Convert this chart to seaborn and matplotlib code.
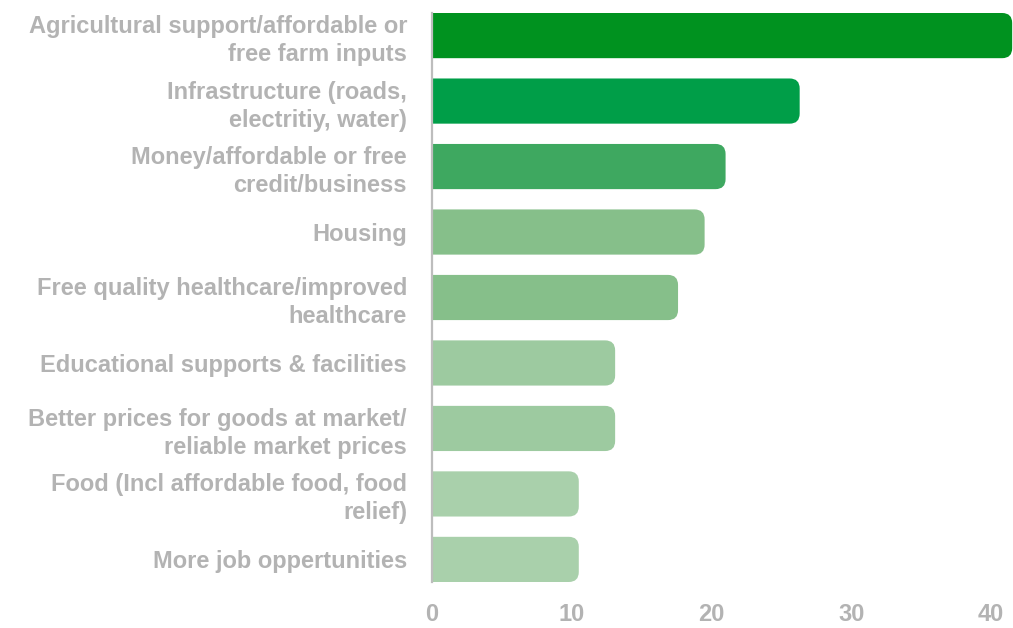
import matplotlib
matplotlib.use("Agg")
import matplotlib.pyplot as plt
from matplotlib.patches import FancyBboxPatch
import seaborn as sns
import pandas as pd

categories = [
    "Agricultural support/affordable or\nfree farm inputs",
    "Infrastructure (roads,\nelectritiy, water)",
    "Money/affordable or free\ncredit/business",
    "Housing",
    "Free quality healthcare/improved\nhealthcare",
    "Educational supports & facilities",
    "Better prices for goods at market/\nreliable market prices",
    "Food (Incl affordable food, food\nrelief)",
    "More job oppertunities",
]
values = [41.5, 26.3, 21.0, 19.5, 17.6, 13.1, 13.1, 10.5, 10.5]
bar_colors = ["#00921f", "#009e48", "#3ea860", "#86bf8a", "#86bf8a",
              "#9dcaa0", "#9dcaa0", "#a9d0ab", "#a9d0ab"]
x_ticks = [0, 10, 20, 30, 40]

sns.set_style("white")
plt.rcParams["font.family"] = ["Liberation Sans", "DejaVu Sans"]

df = pd.DataFrame({"need": categories, "pct": values})

W, H = 1013, 628
fig = plt.figure(figsize=(W / 100, H / 100), dpi=100)
ax_left, ax_right, ax_top, ax_bottom = 432, 1013, 13, 582
ax = fig.add_axes([ax_left / W, 1 - ax_bottom / H,
                   (ax_right - ax_left) / W, (ax_bottom - ax_top) / H])

bar_w = 0.69
sns.barplot(data=df, y="need", x="pct", hue="need", palette=bar_colors,
            legend=False, width=bar_w, orient="h", ax=ax, saturation=1)

xmax = (ax_right - ax_left) / 13.98
ax.set_xlim(0, xmax)
ax.set_ylim(len(categories) - 1 + bar_w / 2, -bar_w / 2)

# swap the plain rectangles for bars with rounded right ends
px_per_x = (ax_right - ax_left) / xmax
px_per_y = (ax_bottom - ax_top) / (len(categories) - 1 + bar_w)
radius_px = 10
r_x = radius_px / px_per_x
aspect = (radius_px / px_per_y) / r_x
for patch in list(ax.patches):
    x0, y0 = patch.get_x(), patch.get_y()
    w, h = patch.get_width(), patch.get_height()
    color = patch.get_facecolor()
    patch.set_visible(False)
    rounded = FancyBboxPatch((x0 - 2, y0), w + 2, h,
                             boxstyle=f"round,pad=0,rounding_size={r_x}",
                             mutation_aspect=aspect,
                             facecolor=color, edgecolor="none", zorder=2)
    ax.add_patch(rounded)

for side in ["top", "right", "bottom"]:
    ax.spines[side].set_visible(False)
ax.spines["left"].set_color("#bdbdbd")
ax.spines["left"].set_linewidth(1.6)
ax.spines["left"].set_zorder(3)

label_gray = "#b3b3b3"
ax.set_xticks(x_ticks)
ax.set_xticklabels([str(t) for t in x_ticks], fontsize=17, fontweight="bold",
                   color=label_gray)
ax.set_yticks(range(len(categories)))
ax.set_yticklabels(categories, fontsize=17, fontweight="bold",
                   color=label_gray, linespacing=1.28)
ax.tick_params(axis="x", length=0, pad=15)
ax.tick_params(axis="y", length=0, pad=18)

ax.set_xlabel("")
ax.set_ylabel("")
ax.grid(False)

fig.savefig("out.png", dpi=100, facecolor="white")
